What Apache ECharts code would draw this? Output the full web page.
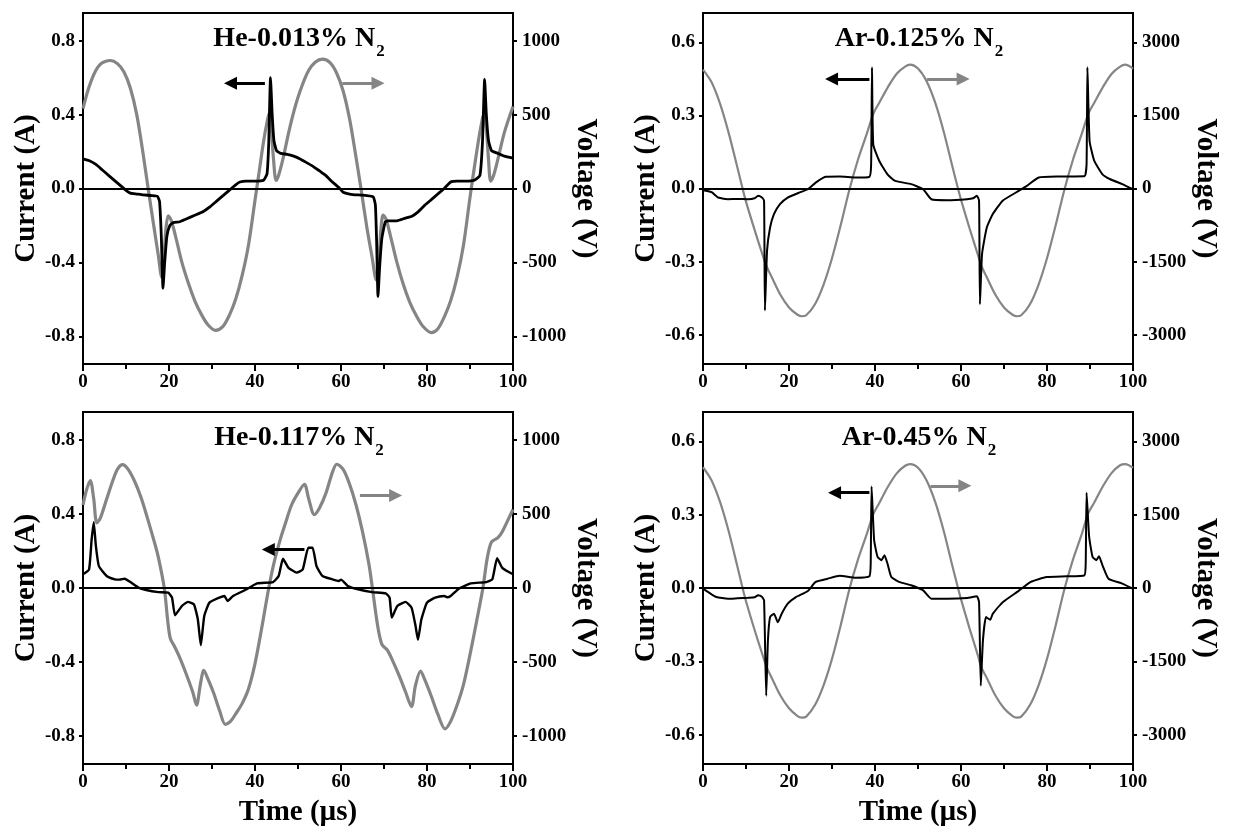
<!DOCTYPE html>
<html><head><meta charset="utf-8">
<script src="https://cdn.jsdelivr.net/npm/echarts@6/dist/echarts.min.js"></script>
<style>html,body{margin:0;padding:0;background:#fff}#c{width:1233px;height:833px}</style>
</head><body><div id="c"></div>
<script>
// ---------------- DATA (time in µs, current in A, voltage in V) ----------------
const panelTitles = ['He-0.013% N', 'Ar-0.125% N', 'He-0.117% N', 'Ar-0.45% N'];
const titleSubscript = '2';
const timeTicks = [0, 20, 40, 60, 80, 100];
const heCurrentTicks = [-0.8, -0.4, 0, 0.4, 0.8];
const heVoltageTicks = [-1000, -500, 0, 500, 1000];
const arCurrentTicks = [-0.6, -0.3, 0, 0.3, 0.6];
const arVoltageTicks = [-3000, -1500, 0, 1500, 3000];

const he013_voltage = [[0,540],[1,650],[2,735],[3,800],[4,840],[5,858],[6.4,866],[8,845],[9.5,790],[11,680],[12.5,500],[14,230],[15.2,-10],[16.5,-260],[17.5,-450],[18.3,-600],[18.8,-470],[19.3,-270],[19.8,-185],[20.5,-215],[21.5,-320],[23,-500],[24.5,-640],[26,-760],[27.5,-850],[29,-920],[30.8,-960],[32.5,-935],[34,-860],[35.5,-750],[37,-590],[38.5,-380],[40,-80],[41,120],[42,320],[42.8,450],[43.3,510],[43.8,400],[44.3,200],[44.9,55],[45.5,90],[46.5,200],[48,400],[49.5,570],[51,700],[52.5,800],[54,855],[55.7,875],[57.5,850],[59,780],[60.5,660],[62,470],[63.5,210],[64.7,-10],[66,-260],[67.2,-460],[68.2,-620],[68.8,-480],[69.3,-270],[69.8,-180],[70.5,-210],[71.5,-320],[73,-500],[74.5,-650],[76,-770],[77.5,-860],[79,-930],[81,-975],[82.5,-950],[84,-870],[85.5,-760],[87,-600],[88.5,-380],[90,-60],[91,140],[92,330],[92.8,460],[93.2,505],[93.8,400],[94.3,200],[94.8,50],[95.5,90],[96.5,200],[98,380],[100,555]];
const he013_current = [[0,0.16],[1.5,0.15],[3,0.13],[4.5,0.10],[6,0.07],[7.5,0.04],[9,0.01],[10,-0.01],[11,-0.025],[12.5,-0.03],[14,-0.035],[16,-0.038],[17.3,-0.042],[17.8,-0.07],[18.2,-0.25],[18.6,-0.54],[19,-0.40],[19.5,-0.26],[20.2,-0.20],[21,-0.185],[22.5,-0.18],[24,-0.165],[26,-0.145],[28,-0.125],[29.5,-0.10],[31,-0.07],[32.5,-0.04],[34,-0.01],[35.5,0.02],[36.5,0.035],[38,0.04],[40,0.04],[42,0.045],[42.8,0.08],[43.2,0.25],[43.6,0.60],[44,0.40],[44.4,0.26],[45,0.205],[46,0.19],[47.5,0.185],[49,0.175],[50.5,0.16],[52,0.14],[53.5,0.12],[55,0.095],[56.5,0.07],[58,0.035],[59.5,0.005],[60.5,-0.02],[62,-0.03],[64,-0.035],[66,-0.038],[67.5,-0.045],[68,-0.09],[68.3,-0.30],[68.6,-0.585],[69,-0.42],[69.5,-0.27],[70.3,-0.18],[71,-0.175],[73,-0.175],[75,-0.16],[76.5,-0.15],[78,-0.125],[79.5,-0.09],[81,-0.06],[82.5,-0.03],[84,0.0],[85.5,0.035],[87,0.04],[89,0.04],[91,0.045],[92.3,0.07],[92.9,0.25],[93.4,0.59],[93.8,0.40],[94.3,0.26],[95,0.205],[96.5,0.19],[98,0.175],[100,0.165]];

const ar125_voltage = [[0,2440],[2,2180],[4,1730],[6,1130],[8,430],[9.2,0],[10,-270],[12,-850],[14,-1400],[14.8,-1600],[16,-1820],[18,-2180],[20,-2440],[22,-2590],[23,-2620],[24,-2600],[26,-2380],[28,-1980],[30,-1430],[32,-760],[34,-40],[36,580],[38,1100],[39.7,1550],[41,1760],[43,2080],[45,2350],[47,2500],[48.2,2540],[50,2460],[52,2200],[54,1760],[56,1160],[58,450],[59.3,0],[60,-230],[62,-820],[64,-1380],[64.8,-1600],[66,-1820],[68,-2180],[70,-2440],[72,-2590],[73,-2620],[74,-2600],[76,-2380],[78,-1980],[80,-1430],[82,-760],[84,-40],[86,580],[88,1100],[89.7,1550],[91,1760],[93,2080],[95,2350],[97,2500],[98.2,2540],[100,2460]];
const ar125_current = [[0,-0.007],[1,-0.01],[2.1,-0.016],[3,-0.03],[3.5,-0.037],[5.8,-0.044],[8,-0.043],[10.5,-0.044],[12,-0.04],[12.8,-0.03],[13.7,-0.037],[14.2,-0.05],[14.4,-0.5],[14.9,-0.254],[15.6,-0.16],[16.5,-0.105],[17.9,-0.064],[19.7,-0.037],[22.5,-0.016],[24.4,-0.003],[26.2,0.024],[28.5,0.048],[31.8,0.049],[35.5,0.045],[38.7,0.048],[39.1,0.1],[39.3,0.497],[39.6,0.18],[41,0.113],[42.9,0.058],[44.7,0.031],[48.4,0.018],[51.2,-0.003],[53.1,-0.044],[56.8,-0.048],[61.4,-0.044],[62.8,-0.04],[63.7,-0.03],[64.2,-0.05],[64.4,-0.475],[64.9,-0.268],[66,-0.16],[67.4,-0.105],[69.7,-0.05],[73.4,-0.01],[75.3,0.011],[78.1,0.045],[82.7,0.049],[88.7,0.05],[89.2,0.1],[89.4,0.497],[89.9,0.195],[91,0.113],[92.9,0.058],[94.7,0.038],[97.5,0.018],[100,-0.003]];

const he117_voltage = [[0,560],[0.8,660],[1.7,725],[2.5,600],[3.2,440],[4,470],[5.5,600],[7,730],[8,800],[9.2,832],[10.5,800],[12,720],[13.5,610],[15,470],[16.5,320],[17.5,210],[18.9,0],[19.7,-220],[20.3,-340],[21.2,-390],[22.5,-470],[24,-580],[25.5,-700],[26.4,-790],[27.3,-650],[28.1,-555],[29,-610],[30.4,-710],[31.8,-830],[33.1,-920],[34.3,-900],[35.5,-850],[37,-780],[38.5,-680],[40,-510],[41.5,-280],[43.2,0],[44.5,180],[46,340],[47,430],[48.5,560],[50,640],[51.5,700],[52.5,600],[53.8,495],[55,540],[56.5,640],[58,780],[59,835],[60.5,800],[62,700],[63.5,560],[65,380],[66.5,160],[67.3,0],[68.5,-250],[69.5,-380],[70.8,-420],[72,-490],[73.5,-590],[75,-700],[76.4,-800],[77.3,-660],[78.5,-560],[79.5,-620],[81,-730],[82.5,-850],[84.2,-950],[85.5,-900],[87,-790],[88.5,-650],[90,-450],[91.5,-230],[93,0],[94,200],[95,310],[96.5,340],[97.5,380],[99,470],[100,530]];
const he117_current = [[0,0.074],[1.4,0.10],[2,0.26],[2.5,0.355],[3,0.226],[3.7,0.118],[5.5,0.065],[7.4,0.047],[8.5,0.045],[9.7,0.05],[11,0.032],[12.9,0.002],[14.7,-0.011],[17.5,-0.022],[19.8,-0.025],[20.7,-0.052],[21.4,-0.147],[23,-0.097],[24.4,-0.075],[25.8,-0.088],[26.7,-0.169],[27.4,-0.309],[28.2,-0.151],[29.4,-0.079],[31.7,-0.052],[32.9,-0.043],[33.6,-0.07],[34.9,-0.043],[37.7,-0.011],[40.5,0.025],[44.2,0.032],[45.5,0.065],[46.5,0.158],[47.8,0.109],[49.7,0.083],[51.1,0.10],[52.4,0.217],[53.4,0.217],[54.3,0.118],[55.7,0.065],[58,0.047],[59.5,0.038],[60,0.045],[61.6,0.011],[63.5,-0.004],[67.2,-0.022],[70.4,-0.029],[71.3,-0.052],[71.8,-0.16],[73.1,-0.097],[75,-0.075],[76.4,-0.106],[77.3,-0.2],[77.9,-0.28],[78.7,-0.169],[80,-0.079],[81.9,-0.052],[84,-0.043],[84.7,-0.05],[85.5,-0.043],[87.4,-0.004],[90.2,0.025],[93.8,0.032],[95.2,0.047],[96.3,0.161],[97.5,0.109],[100,0.074]];

const ar45_voltage = [[0,2470],[2,2200],[4,1750],[6,1150],[8,440],[9.2,0],[10,-270],[12,-860],[14,-1410],[14.8,-1620],[16,-1840],[18,-2200],[20,-2460],[22,-2620],[23,-2650],[24,-2630],[26,-2400],[28,-2000],[30,-1450],[32,-770],[34,-40],[36,570],[38,1080],[39.6,1510],[41,1740],[43,2070],[45,2340],[47,2500],[48.2,2535],[50,2460],[52,2200],[54,1760],[56,1160],[58,450],[59.3,0],[60,-230],[62,-830],[64,-1400],[64.7,-1620],[66,-1840],[68,-2200],[70,-2460],[72,-2620],[73,-2650],[74,-2630],[76,-2400],[78,-2000],[80,-1450],[82,-770],[84,-40],[86,570],[88,1080],[89.6,1530],[91,1750],[93,2080],[95,2350],[97,2510],[98.2,2535],[100,2460]];
const ar45_current = [[0,-0.003],[1.5,-0.02],[3.1,-0.037],[5.8,-0.044],[8,-0.042],[10.5,-0.04],[12,-0.038],[12.8,-0.03],[13.7,-0.036],[14.2,-0.05],[14.7,-0.441],[15.1,-0.215],[15.6,-0.119],[16.5,-0.105],[17.4,-0.14],[18.3,-0.105],[19.7,-0.064],[21.6,-0.037],[24.4,-0.012],[26.2,0.025],[29,0.038],[31.8,0.05],[35.5,0.042],[38.7,0.048],[39,0.1],[39.2,0.415],[39.8,0.196],[40.6,0.127],[41.5,0.114],[42.2,0.134],[42.9,0.10],[43.8,0.045],[45.6,0.025],[48.4,0.011],[51.2,-0.01],[53.1,-0.044],[56.8,-0.044],[61.4,-0.041],[63.7,-0.034],[64.2,-0.058],[64.6,-0.4],[65.1,-0.215],[65.8,-0.119],[66.8,-0.13],[67.4,-0.105],[69.7,-0.058],[73.4,-0.012],[76.2,0.025],[79.9,0.045],[84.5,0.048],[88.7,0.052],[89,0.1],[89.2,0.39],[89.8,0.21],[90.6,0.127],[91.5,0.114],[92.1,0.13],[92.9,0.093],[94.3,0.038],[97.5,0.018],[100,-0.003]];

// annotation arrows: [tail time, tip time, current level]
const he013_arrows = {black: [42.3, 34.3, 0.57], gray: [60.3, 68.6, 0.57]};
const ar125_arrows = {black: [38.7, 29.9, 0.449], gray: [52.1, 60.5, 0.449]};
const he117_arrows = {black: [51.5, 43.1, 0.208], gray: [64.4, 72.7, 0.499]};
const ar45_arrows  = {black: [38.7, 30.6, 0.39], gray: [52.9, 60.9, 0.418]};

// ---------------- LAYOUT / STYLE ----------------
const FONT = "'Liberation Serif','Times New Roman',serif";
const GRAY = '#858585';
const layout = [
  {left: 83, top: 13, width: 430, height: 351},
  {left: 703, top: 13, width: 430, height: 351},
  {left: 83, top: 412, width: 430, height: 352},
  {left: 703, top: 412, width: 430, height: 352}
];
const panels = [
  {cur: he013_current, volt: he013_voltage, cMax: 0.95, vMax: 1187.5, cT: heCurrentTicks, vT: heVoltageTicks, arrows: he013_arrows, vw: 3.2, cw: 2.8, bottom: false},
  {cur: ar125_current, volt: ar125_voltage, cMax: 0.72, vMax: 3600, cT: arCurrentTicks, vT: arVoltageTicks, arrows: ar125_arrows, vw: 2.2, cw: 2, bottom: false},
  {cur: he117_current, volt: he117_voltage, cMax: 0.95, vMax: 1187.5, cT: heCurrentTicks, vT: heVoltageTicks, arrows: he117_arrows, vw: 3.2, cw: 2.4, bottom: true},
  {cur: ar45_current, volt: ar45_voltage, cMax: 0.72, vMax: 3600, cT: arCurrentTicks, vT: arVoltageTicks, arrows: ar45_arrows, vw: 2.2, cw: 2, bottom: true}
];

const lbl = {fontFamily: FONT, fontWeight: 'bold', fontSize: 19, color: '#000'};
const nameStyle = {fontFamily: FONT, fontWeight: 'bold', fontSize: 29, color: '#000'};
const axLine = {show: true, onZero: false, lineStyle: {color: '#000', width: 2}};
const tickStyle = {color: '#000', width: 2};

const option = {
  animation: false,
  backgroundColor: '#fff',
  title: panels.map((p, i) => ({
    left: layout[i].left + layout[i].width / 2 - 4,
    top: layout[i].top + 7,
    textAlign: 'center',
    text: '{m|' + panelTitles[i] + '}{s|' + titleSubscript + '}',
    textStyle: {
      rich: {
        m: {fontFamily: FONT, fontWeight: 'bold', fontSize: 28, color: '#000', lineHeight: 31, verticalAlign: 'top'},
        s: {fontFamily: FONT, fontWeight: 'bold', fontSize: 17, color: '#000', lineHeight: 17, verticalAlign: 'top', padding: [18, 0, 0, 1]}
      }
    }
  })),
  grid: layout.map(l => Object.assign({show: true, borderColor: '#000', borderWidth: 2, backgroundColor: 'transparent'}, l)),
  xAxis: panels.map((p, i) => ({
    type: 'value', gridIndex: i, min: timeTicks[0], max: timeTicks[timeTicks.length - 1], interval: timeTicks[1] - timeTicks[0],
    axisLine: axLine,
    axisTick: {show: true, inside: false, length: 7, lineStyle: tickStyle},
    minorTick: {show: true, splitNumber: 2, length: 5, lineStyle: tickStyle},
    splitLine: {show: false}, minorSplitLine: {show: false},
    axisLabel: Object.assign({margin: 9}, lbl),
    name: p.bottom ? 'Time (µs)' : '',
    nameLocation: 'middle', nameGap: 34, nameTextStyle: nameStyle
  })),
  yAxis: panels.flatMap((p, i) => [
    {
      type: 'value', gridIndex: i, position: 'left', min: -p.cMax, max: p.cMax,
      axisLine: axLine,
      axisTick: {show: true, inside: false, length: 4, lineStyle: tickStyle, customValues: p.cT},
      axisLabel: Object.assign({margin: 8, customValues: p.cT, formatter: v => Number(v).toFixed(1)}, lbl),
      splitLine: {show: false},
      name: 'Current (A)', nameLocation: 'middle', nameGap: 40, nameTextStyle: nameStyle
    },
    {
      type: 'value', gridIndex: i, position: 'right', min: -p.vMax, max: p.vMax,
      axisLine: axLine,
      axisTick: {show: true, inside: false, length: 4, lineStyle: tickStyle, customValues: p.vT},
      axisLabel: Object.assign({margin: 9, customValues: p.vT, formatter: v => String(Math.round(v))}, lbl),
      splitLine: {show: false},
      name: 'Voltage (V)', nameLocation: 'middle', nameRotate: -90, nameGap: 58, nameTextStyle: nameStyle
    }
  ]),
  series: panels.flatMap((p, i) => [
    {
      type: 'line', xAxisIndex: i, yAxisIndex: 2 * i, data: p.volt.map(d => [d[0], d[1] * p.cMax / p.vMax]),
      showSymbol: false, symbol: 'none', silent: true, z: 2, smooth: 0.3,
      lineStyle: {color: GRAY, width: p.vw}
    },
    {
      type: 'line', xAxisIndex: i, yAxisIndex: 2 * i, data: p.cur,
      showSymbol: false, symbol: 'none', silent: true, z: 3, smooth: 0.15,
      lineStyle: {color: '#000', width: p.cw},
      markLine: {
        silent: true, animation: false, label: {show: false},
        data: [
          [{coord: [timeTicks[0], 0], symbol: 'none', lineStyle: {color: '#000', width: 2, type: 'solid'}},
           {coord: [timeTicks[timeTicks.length - 1], 0], symbol: 'none'}],
          [{coord: [p.arrows.black[0], p.arrows.black[2]], symbol: 'none', lineStyle: {color: '#000', width: 3, type: 'solid'}, itemStyle: {color: '#000'}},
           {coord: [p.arrows.black[1], p.arrows.black[2]], symbol: 'triangle', symbolSize: 13}],
          [{coord: [p.arrows.gray[0], p.arrows.gray[2]], symbol: 'none', lineStyle: {color: GRAY, width: 3, type: 'solid'}, itemStyle: {color: GRAY}},
           {coord: [p.arrows.gray[1], p.arrows.gray[2]], symbol: 'triangle', symbolSize: 13}]
        ]
      }
    }
  ])
};
const chart = echarts.init(document.getElementById('c'), null, {renderer: 'canvas'});
chart.setOption(option);
</script>
</body></html>
